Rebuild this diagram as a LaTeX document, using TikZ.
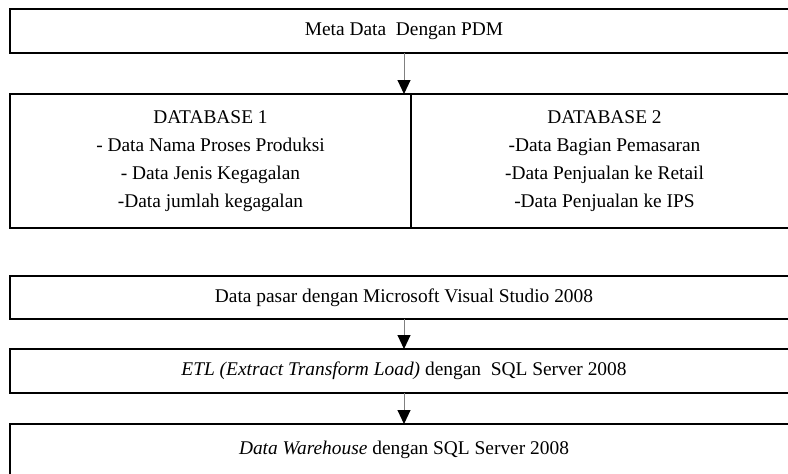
\documentclass[tikz,border=0pt]{standalone}
\usepackage{fontspec}
\setmainfont{Liberation Serif}
\usepackage{tikz}
\usetikzlibrary{arrows.meta, positioning}

\begin{document}
\begin{tikzpicture}[
    every node/.style={
        draw=black,
        line width=0.65pt,
        minimum width=394pt,
        inner sep=0pt,
        outer sep=0pt,
        align=center,
        font=\fontsize{9.7}{14}\selectfont},
    >={Triangle[width=6.5pt, length=7pt, color=black]}]
    \useasboundingbox (0,0) rectangle (394pt,-236.5pt);
    \node[minimum height=22pt, anchor=north west] (meta) at (5pt,-4.5pt) {Meta Data\ \ Dengan PDM};
    \node[minimum width=200.5pt, minimum height=67pt, below=20.5pt of meta.south west, anchor=north west] (db1) {DATABASE 1\\ - Data Nama Proses Produksi\\ - Data Jenis Kegagalan\\ -Data jumlah kegagalan};
    \node[minimum width=193.5pt, minimum height=67pt, right=0pt of db1] (db2) {DATABASE 2\\ -Data Bagian Pemasaran\\ -Data Penjualan ke Retail\\ -Data Penjualan ke IPS};
    \node[minimum height=21.5pt, below=24pt of db1.south west, anchor=north west] (pasar) {Data pasar dengan Microsoft Visual Studio 2008};
    \node[minimum height=22pt, below=15pt of pasar] (etl) {\textit{ETL (Extract Transform Load)} dengan\ \ SQL Server 2008};
    \node[minimum height=26pt, below=15.5pt of etl] (dwh) {\textit{Data Warehouse} dengan SQL Server 2008};

    \begin{scope}[draw=gray, line width=0.5pt]
        \draw[->] (meta) -- (meta.south |- db1.north);
        \draw[->] (pasar) -- (etl);
        \draw[->] (etl) -- (dwh);
    \end{scope}
\end{tikzpicture}
\end{document}
